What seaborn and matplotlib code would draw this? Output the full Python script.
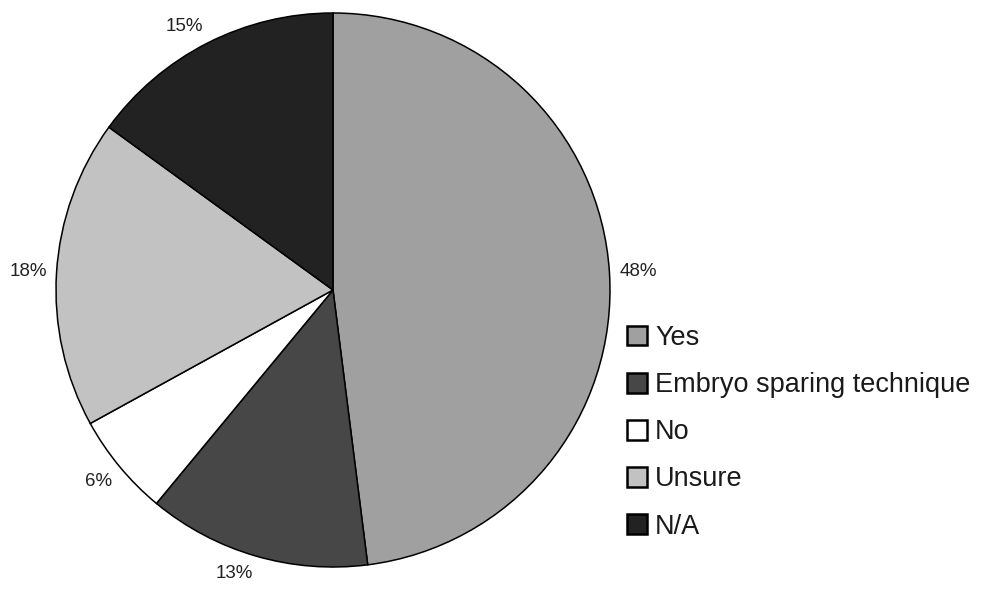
import numpy as np
import matplotlib
matplotlib.use("Agg")
import matplotlib.pyplot as plt
from matplotlib.patches import Patch
import seaborn as sns

categories = ["Yes", "Embryo sparing technique", "No", "Unsure", "N/A"]
shares = [48, 13, 6, 18, 15]
pct_labels = ["48%", "13%", "6%", "18%", "15%"]
slice_colors = ["#a0a0a0", "#474747", "#ffffff", "#c2c2c2", "#222222"]

sns.set_theme(style="white")
plt.rcParams["font.family"] = ["Liberation Sans", "DejaVu Sans"]

W, H = 987, 592
fig = plt.figure(figsize=(W / 100, H / 100), dpi=100)
fig.patch.set_facecolor("white")

# square axes holding the pie (centre ~ (333, 290) px, radius ~277 px)
cx, cy, r = 333, 290, 277
ax = fig.add_axes([(cx - r) / W, (H - cy - r) / H, 2 * r / W, 2 * r / H])

wedges, _ = ax.pie(
    shares,
    colors=slice_colors,
    startangle=90,
    counterclock=False,
    radius=1.0,
    wedgeprops=dict(edgecolor="black", linewidth=1.1),
)
ax.set_xlim(-1, 1)
ax.set_ylim(-1, 1)
ax.axis("off")

# percentage labels just outside each wedge, anchored on the side facing the pie
label_r = 1.035
for w, txt in zip(wedges, pct_labels):
    mid = np.deg2rad((w.theta1 + w.theta2) / 2)
    c, s = np.cos(mid), np.sin(mid)
    ha = "left" if c > 0.1 else ("right" if c < -0.1 else "center")
    va = "bottom" if s > 0.3 else ("top" if s < -0.3 else "center")
    ax.text(label_r * c, label_r * s, txt, ha=ha, va=va, fontsize=13.5,
            color="#222222", clip_on=False)

handles = [Patch(facecolor=col, edgecolor="black", linewidth=1.8) for col in slice_colors]
fig.legend(
    handles, categories,
    loc="upper left",
    bbox_to_anchor=(627 / W, 1 - 325 / H),
    frameon=False,
    fontsize=19.5,
    handlelength=0.74,
    handleheight=0.74,
    handletextpad=0.3,
    labelspacing=0.78,
    borderpad=0.0,
    borderaxespad=0.0,
    labelcolor="#1a1a1a",
)

fig.savefig("out.png", dpi=100, facecolor="white")
